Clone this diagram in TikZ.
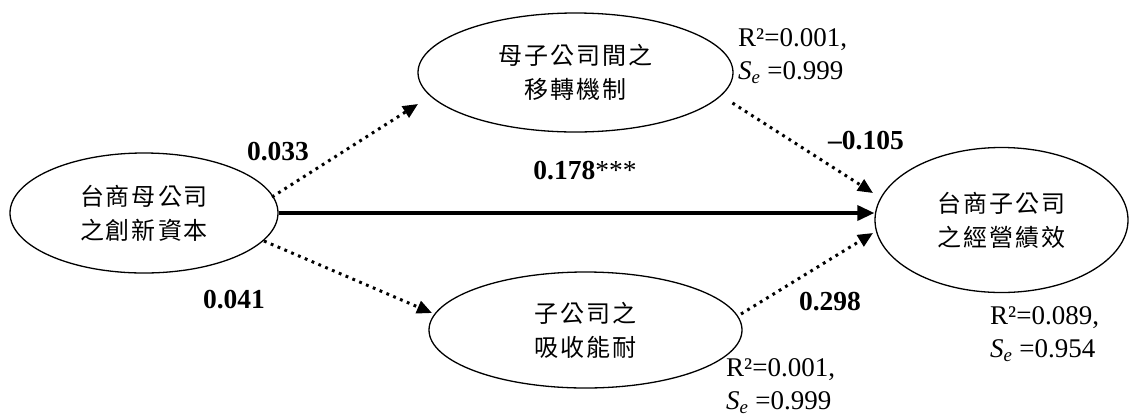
\documentclass[tikz,border=0pt]{standalone}
\usepackage{fontspec}
\setmainfont{Liberation Serif}
\newfontfamily\cjkfont{Noto Sans CJK TC}
\usetikzlibrary{shapes.geometric,arrows.meta,calc}
\newdimen\cjkgap \cjkgap=2pt
\ExplSyntaxOn
\NewDocumentCommand\cjktext{m}{\tl_map_inline:nn{#1}{##1\kern\cjkgap}\kern-\cjkgap}
\ExplSyntaxOff
\tikzset{
  latent/.style={ellipse, draw, line width=1.3pt, inner sep=0pt, align=center,
    font=\cjkfont\fontsize{24}{34}\selectfont},
  dotarr/.style={line width=3pt, dash pattern=on 2.8pt off 4.6pt,
    -{Triangle[length=15pt,width=13pt]}},
  solidarr/.style={line width=3.5pt, -{Triangle[length=17pt,width=15pt]}},
  coef/.style={font=\fontsize{27.5}{32}\selectfont\bfseries, inner sep=0pt},
  stat/.style={font=\fontsize{27}{33}\selectfont, align=left, anchor=west, inner sep=0pt}
}
\begin{document}
\begin{tikzpicture}[x=1pt,y=-1pt]
\useasboundingbox (0,0) rectangle (1133,416);
\node[latent, minimum width=268pt, minimum height=120pt] (A) at (144,213)
  {\cjktext{台商母公司}\\\cjktext{之創新資本}};
\node[latent, minimum width=315pt, minimum height=119pt] (T) at (575.5,72.5)
  {\cjktext{母子公司間之}\\\cjktext{移轉機制}};
\node[latent, minimum width=313pt, minimum height=116pt] (B) at (585.5,330)
  {\cjktext{子公司之}\\\cjktext{吸收能耐}};
\node[latent, minimum width=253pt, minimum height=145pt] (R) at (1001.5,220)
  {\cjktext{台商子公司}\\\cjktext{之經營績效}};

\draw[solidarr] (A.east) -- (A.east -| R.west);
\draw[dotarr] ($(A.center)+(128,-16)$) -- ($(T.center)+(-157.5,31.5)$);
\draw[dotarr] ($(T.center)+(157,30.5)$) -- ($(R.center)+(-128.5,-27)$);
\draw[dotarr] ($(A.center)+(120,28)$) -- ($(B.center)+(-153.5,-17)$);
\draw[dotarr] ($(B.center)+(155.5,-16)$) -- ($(R.center)+(-128.5,13)$);

\node[coef] (c1) at (278,152) {0.033};
\node[coef] (c2) at (585,171) {0.178\mdseries***};
\node[coef] (c3) at (866,141) {–0.105};
\node[coef] (c4) at (234,300) {0.041};
\node[coef] (c5) at (830,302) {0.298};

\node[stat] (s1) at (738,56) {R²=0.001,\\\textit{S}\textsubscript{\textit{e}} =0.999};
\node[stat] (s2) at (726,386) {R²=0.001,\\\textit{S}\textsubscript{\textit{e}} =0.999};
\node[stat] (s3) at (990,334) {R²=0.089,\\\textit{S}\textsubscript{\textit{e}} =0.954};
\end{tikzpicture}
\end{document}
